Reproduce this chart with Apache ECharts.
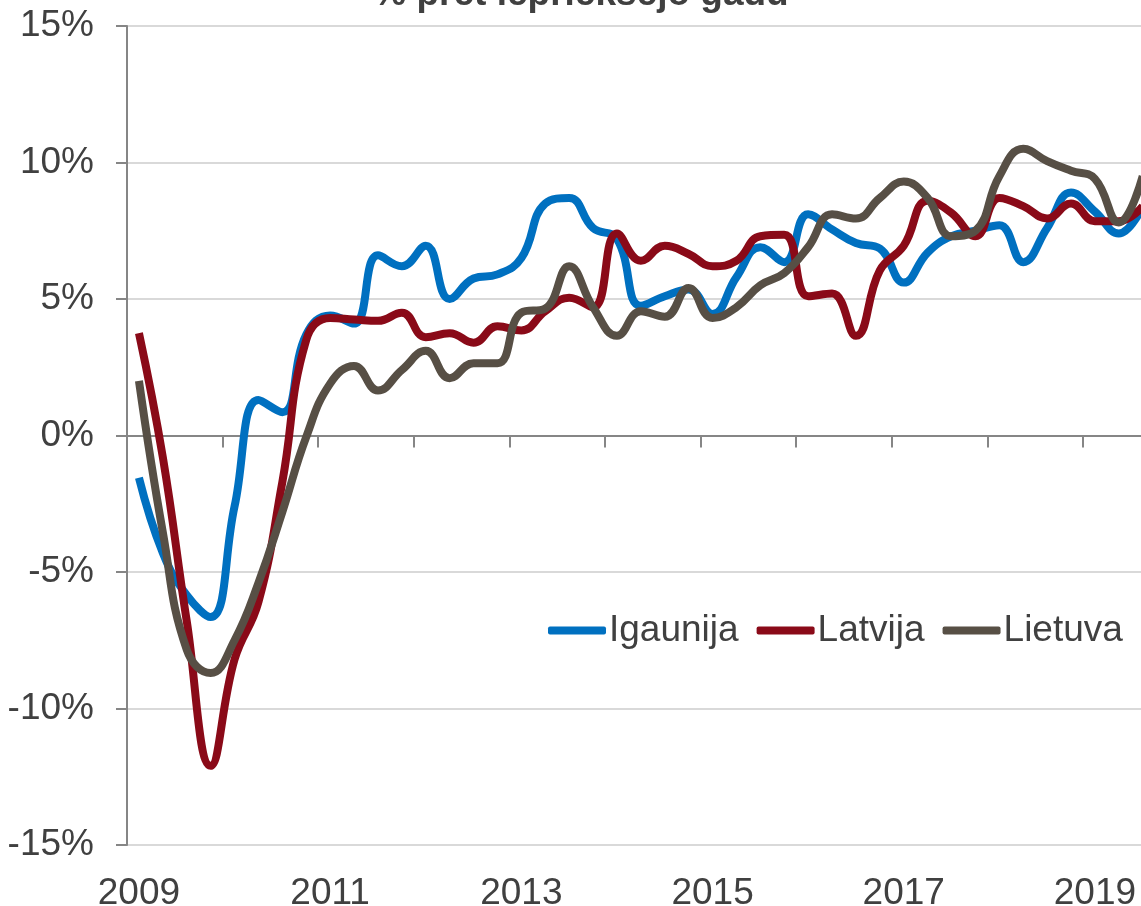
<!DOCTYPE html>
<html>
<head>
<meta charset="utf-8">
<script src="https://cdn.jsdelivr.net/npm/echarts@6/dist/echarts.min.js"></script>
<style>
  html, body { margin: 0; padding: 0; background: #fff; overflow: hidden; }
  #main { width: 1141px; height: 906px; }
</style>
</head>
<body>
<div id="main"></div>
<script>
// ceturkšņi 2009 Q1 - 2019 Q3
const quarters = [
  '2009 Q1', '2009 Q2', '2009 Q3', '2009 Q4',
  '2010 Q1', '2010 Q2', '2010 Q3', '2010 Q4',
  '2011 Q1', '2011 Q2', '2011 Q3', '2011 Q4',
  '2012 Q1', '2012 Q2', '2012 Q3', '2012 Q4',
  '2013 Q1', '2013 Q2', '2013 Q3', '2013 Q4',
  '2014 Q1', '2014 Q2', '2014 Q3', '2014 Q4',
  '2015 Q1', '2015 Q2', '2015 Q3', '2015 Q4',
  '2016 Q1', '2016 Q2', '2016 Q3', '2016 Q4',
  '2017 Q1', '2017 Q2', '2017 Q3', '2017 Q4',
  '2018 Q1', '2018 Q2', '2018 Q3', '2018 Q4',
  '2019 Q1', '2019 Q2', '2019 Q3'
]

const igaunija = [
  -1.55, -4.3, -5.85, -6.65, -2.6, 1.3, 0.85, 3.7,
  4.4, 4.1, 6.6, 6.2, 6.95, 5.0, 5.75, 5.9,
  6.5, 8.5, 8.7, 7.6, 7.2, 4.75, 5.1, 5.35,
  4.45, 5.8, 6.9, 6.35, 8.1, 7.55, 7.05, 6.85,
  5.6, 6.7, 7.3, 7.5, 7.7, 6.35, 7.6, 8.9,
  8.2, 7.4, 8.4
]

const latvija = [
  3.75, -0.8, -6.8, -12.1, -8.2, -6.1, -1.7, 3.5,
  4.3, 4.25, 4.2, 4.5, 3.6, 3.75, 3.4, 4.0,
  3.85, 4.55, 5.05, 4.7, 7.4, 6.4, 6.95, 6.65,
  6.2, 6.4, 7.3, 7.35, 5.1, 5.2, 3.65, 6.05,
  6.95, 8.6, 8.15, 7.3, 8.7, 8.4, 7.95, 8.5,
  7.85, 7.85, 8.4
]

const lietuva = [
  2.0, -3.55, -7.85, -8.7, -7.5, -5.4, -2.8, -0.05,
  1.9, 2.55, 1.65, 2.4, 3.1, 2.1, 2.65, 2.65,
  4.5, 4.65, 6.2, 4.7, 3.65, 4.55, 4.35, 5.4,
  4.3, 4.7, 5.5, 5.95, 6.9, 8.1, 7.95, 8.7,
  9.3, 8.7, 7.3, 7.5, 9.5, 10.5, 10.05, 9.7,
  9.4, 7.8, 9.5
]

const yTicks = [-15, -10, -5, 0, 5, 10, 15]

const font = 'Liberation Sans'
const textColor = '#404040'
const axisGray = '#868686'

const chart = echarts.init(document.getElementById('main'), null, { renderer: 'canvas' })

let option = {
  animation: false,
  backgroundColor: '#fff',
  graphic: [{
    type: 'text',
    x: 581,
    y: -5,
    style: {
      text: '% pret iepriekšējo gadu',
      x: 0,
      y: 0,
      align: 'center',
      verticalAlign: 'middle',
      font: 'bold 37px "Liberation Sans"',
      fill: textColor
    }
  }],
  legend: {
    left: 543,
    top: 607,
    icon: 'roundRect',
    itemWidth: 58,
    itemHeight: 8,
    itemGap: 18,
    textStyle: { fontFamily: font, fontSize: 37, color: textColor, padding: [0, 0, 0, -2] },
    data: ['Igaunija', 'Latvija', 'Lietuva']
  },
  grid: {
    left: 127,
    top: 26,
    bottom: 61,
    // plot goes past the right edge (the original is cut there)
    width: 43 * 23.9,
    containLabel: false,
    outerBoundsMode: 'none'
  },
  xAxis: [{
    type: 'category',
    data: quarters,
    position: 'bottom',
    boundaryGap: true,
    axisLine: { show: false, onZero: false },
    axisTick: { show: false },
    axisLabel: {
      interval: 7,
      margin: 30,
      fontFamily: font,
      fontSize: 37,
      color: textColor,
      formatter: v => v.slice(0, 4)
    },
    splitLine: { show: false }
  }, {
    type: 'category',
    data: quarters,
    position: 'top',
    boundaryGap: true,
    axisLine: { show: true, onZero: true, lineStyle: { color: axisGray, width: 2 } },
    axisTick: { show: true, inside: true, interval: 3, length: 12, lineStyle: { color: axisGray, width: 2 } },
    axisLabel: { show: false },
    splitLine: { show: false }
  }],
  yAxis: {
    type: 'value',
    min: yTicks[0],
    max: yTicks[yTicks.length - 1],
    interval: 5,
    axisLine: { show: true, lineStyle: { color: axisGray, width: 2 } },
    axisTick: { show: true, length: 11, lineStyle: { color: axisGray, width: 2 } },
    axisLabel: {
      margin: 33,
      fontFamily: font,
      fontSize: 37,
      color: textColor,
      formatter: v => v + '%'
    },
    splitLine: { show: true, lineStyle: { color: '#d9d9d9', width: 2 } }
  },
  series: [{
    name: 'Igaunija',
    type: 'line',
    data: igaunija,
    smooth: 0.45,
    showSymbol: false,
    clip: false,
    lineStyle: { width: 8, color: '#0070C0' },
    itemStyle: { color: '#0070C0' }
  }, {
    name: 'Latvija',
    type: 'line',
    data: latvija,
    smooth: 0.45,
    showSymbol: false,
    clip: false,
    lineStyle: { width: 8, color: '#8A0A18' },
    itemStyle: { color: '#8A0A18' }
  }, {
    name: 'Lietuva',
    type: 'line',
    data: lietuva,
    smooth: 0.45,
    showSymbol: false,
    clip: false,
    lineStyle: { width: 8, color: '#574F45' },
    itemStyle: { color: '#574F45' }
  }]
}

chart.setOption(option)
</script>
</body>
</html>
